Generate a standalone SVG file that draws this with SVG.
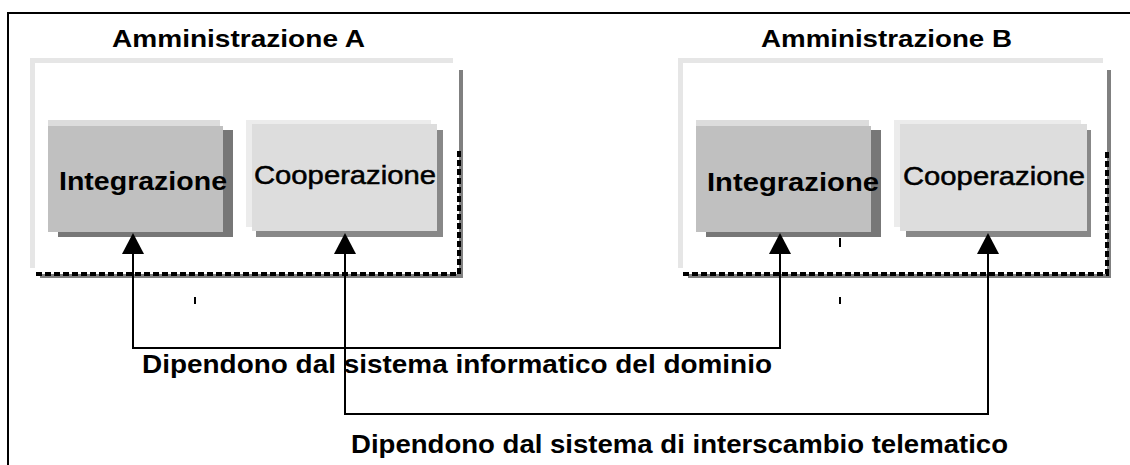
<svg xmlns="http://www.w3.org/2000/svg" width="1130" height="465" viewBox="0 0 1130 465">
<style>
text{font-family:"Liberation Sans",Arial,sans-serif;fill:#000}
.title{font-size:24px;font-weight:bold}
.integ{font-size:26.5px;font-weight:bold}
.coop{font-size:25.5px;stroke:#000;stroke-width:0.5}
.lbl{font-size:25.5px;font-weight:bold}
.cshadow{fill:#808080}
.cbody{fill:#fff}
.chl{fill:none;stroke:#e6e6e6;stroke-width:5}
.dash{fill:none;stroke:#000;stroke-width:4;stroke-dasharray:6 3}
.ish{fill:#777}
.ibody{fill:#c0c0c0}
.ihl{fill:#dcdcdc}
.csh{fill:#888}
.cb{fill:#dddddd}
.chl2{fill:#ececec}
.conn{fill:none;stroke:#000;stroke-width:2;marker-start:url(#ah);marker-end:url(#ah)}
.tick{stroke:#000;stroke-width:2}
</style>
<defs>
<marker id="ah" markerUnits="userSpaceOnUse" markerWidth="22" markerHeight="23" refX="0" refY="11" orient="auto-start-reverse" viewBox="0 0 22 22">
<path d="M0,0 L21,11 L0,22 Z" fill="#000"/>
</marker>
</defs>
<rect width="1130" height="465" fill="#fff"/>
<path d="M8,465 V13 H1130" fill="none" stroke="#000" stroke-width="2"/>

<g id="amministrazione-a">
<rect class="cshadow" x="40" y="70" width="423" height="208"/>
<rect class="cbody" x="30" y="58" width="429" height="216"/>
<path class="chl" d="M32.5,268 V60.5 H453"/>
<path class="dash" d="M36,274 H459 V150"/>
<text class="title" x="112" y="47" textLength="253" lengthAdjust="spacingAndGlyphs">Amministrazione A</text>
</g>

<g id="integrazione-a">
<rect class="ish" x="58" y="130" width="175" height="107"/>
<rect class="ibody" x="48" y="126" width="175" height="106"/>
<rect class="ihl" x="48" y="120" width="172" height="6"/>
<text class="integ" x="59" y="190" textLength="168" lengthAdjust="spacingAndGlyphs">Integrazione</text>
</g>

<g id="cooperazione-a">
<rect class="csh" x="256" y="130" width="187" height="107"/>
<path class="chl2" d="M246,120 H431 V124 H252 V227 H246 Z"/>
<rect class="cb" x="252" y="124" width="185" height="107"/>
<text class="coop" x="254" y="184" textLength="182" lengthAdjust="spacingAndGlyphs">Cooperazione</text>
</g>

<g id="amministrazione-b">
<rect class="cshadow" x="688" y="70" width="423" height="208"/>
<rect class="cbody" x="678" y="58" width="429" height="216"/>
<path class="chl" d="M680.5,268 V60.5 H1103"/>
<path class="dash" d="M683,274 H1107 V150"/>
<text class="title" x="761" y="47" textLength="251" lengthAdjust="spacingAndGlyphs">Amministrazione B</text>
</g>

<g id="integrazione-b">
<rect class="ish" x="706" y="130" width="175" height="107"/>
<rect class="ibody" x="696" y="126" width="175" height="106"/>
<rect class="ihl" x="696" y="120" width="173" height="6"/>
<text class="integ" x="707" y="191" textLength="172" lengthAdjust="spacingAndGlyphs">Integrazione</text>
</g>

<g id="cooperazione-b">
<rect class="csh" x="906" y="130" width="185" height="107"/>
<path class="chl2" d="M894,120 H1081 V124 H900 V227 H894 Z"/>
<rect class="cb" x="900" y="124" width="187" height="107"/>
<text class="coop" x="903" y="185" textLength="182" lengthAdjust="spacingAndGlyphs">Cooperazione</text>
</g>

<g id="connectors">
<path class="conn" d="M133,254 V348 H780 V254"/>
<path class="conn" d="M345,254 V414 H988 V254"/>
</g>

<g id="labels">
<text class="lbl" x="142" y="373" textLength="630" lengthAdjust="spacingAndGlyphs">Dipendono dal sistema informatico del dominio</text>
<text class="lbl" x="351" y="453" textLength="657" lengthAdjust="spacingAndGlyphs">Dipendono dal sistema di interscambio telematico</text>
</g>

<g id="marks">
<line class="tick" x1="195" y1="297" x2="195" y2="304"/>
<line class="tick" x1="840" y1="238" x2="840" y2="247"/>
<line class="tick" x1="840" y1="297" x2="840" y2="304"/>
</g>
</svg>
